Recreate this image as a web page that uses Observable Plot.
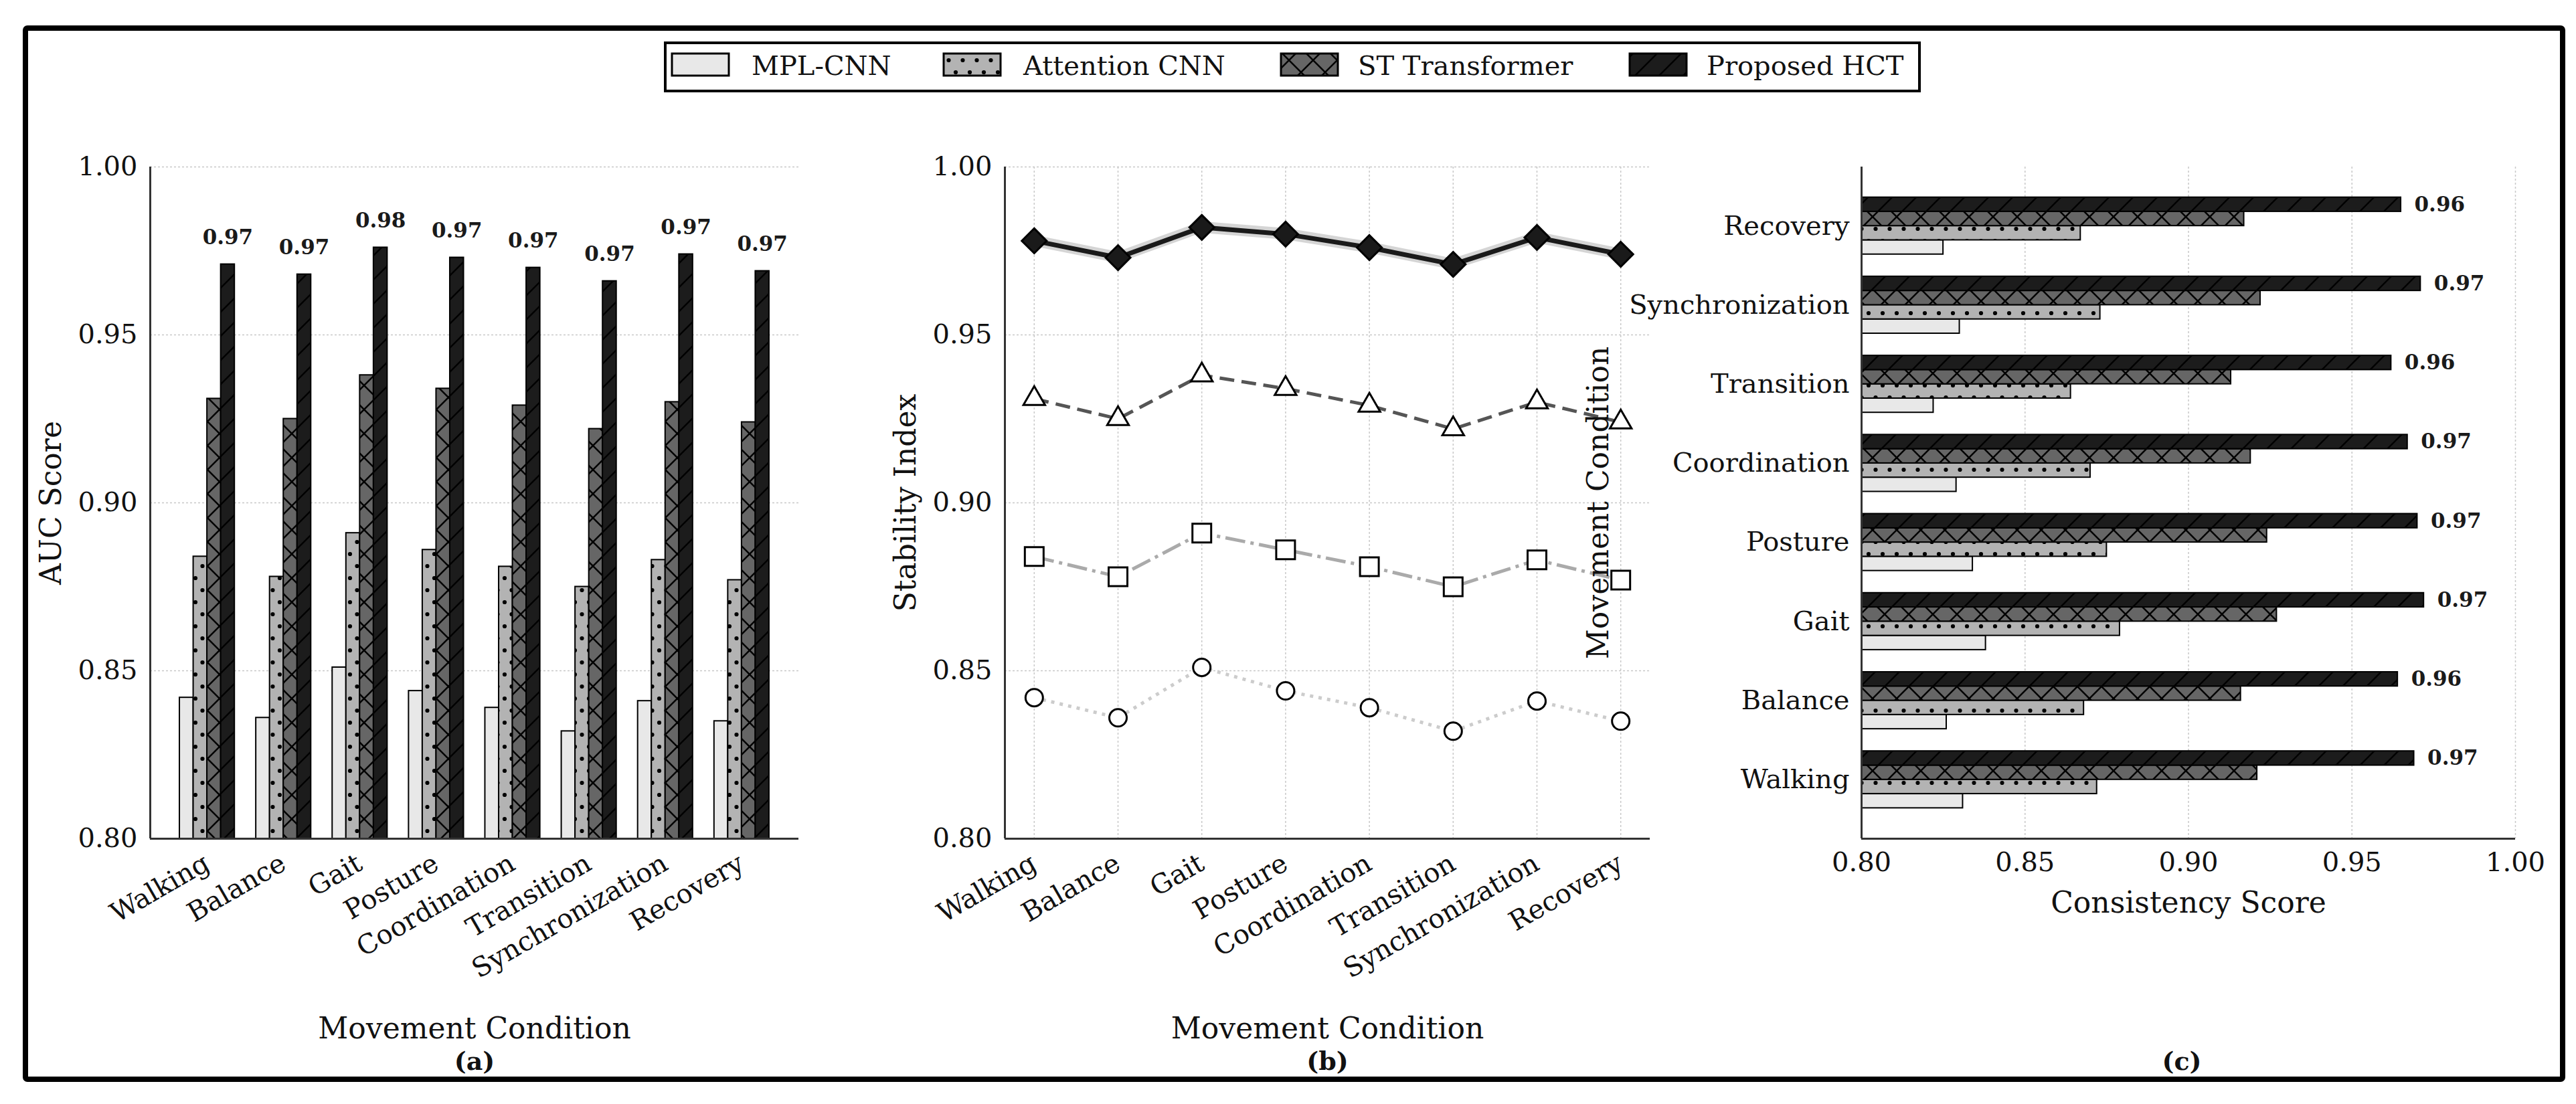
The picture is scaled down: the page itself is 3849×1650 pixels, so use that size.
<!DOCTYPE html>
<html><head><meta charset="utf-8">
<script src="https://cdn.jsdelivr.net/npm/d3@7"></script>
<script src="https://cdn.jsdelivr.net/npm/@observablehq/plot@0.6"></script>
<style>
body{margin:0;background:#fff;}
#page{position:relative;width:3849px;height:1650px;overflow:hidden;font-family:"DejaVu Serif";background:#fff;}
#page svg{position:absolute;}
</style></head><body>
<svg width="0" height="0" style="position:absolute">
<defs>
<pattern id="pAtt" width="21" height="36" patternUnits="userSpaceOnUse">
<rect width="21" height="36" fill="#b3b3b3"/>
<circle cx="0" cy="0" r="3.1" fill="#000"/><circle cx="21" cy="0" r="3.1" fill="#000"/>
<circle cx="0" cy="36" r="3.1" fill="#000"/><circle cx="21" cy="36" r="3.1" fill="#000"/>
<circle cx="10.5" cy="18" r="3.1" fill="#000"/>
</pattern>
<pattern id="pST" width="36" height="36" patternUnits="userSpaceOnUse">
<rect width="36" height="36" fill="#666666"/>
<path d="M0,36L36,0M-9,9L9,-9M27,45L45,27M0,0L36,36M-9,27L9,45M27,-9L45,9" stroke="#000" stroke-width="2.5" fill="none"/>
</pattern>
<pattern id="pHCT" width="36" height="36" patternUnits="userSpaceOnUse">
<rect width="36" height="36" fill="#1c1c1c"/>
<path d="M0,36L36,0M-9,9L9,-9M27,45L45,27" stroke="#000" stroke-width="2.5" fill="none"/>
</pattern>
</defs>
</svg>
<div id="page"></div>
<script>
// ---------- data ----------
const categories = ["Walking","Balance","Gait","Posture","Coordination","Transition","Synchronization","Recovery"];
const models = ["MPL-CNN","Attention CNN","ST Transformer","Proposed HCT"];

// (a) AUC Score
const aucMPL = [0.842,0.836,0.851,0.844,0.839,0.832,0.841,0.835];
const aucAtt = [0.884,0.878,0.891,0.886,0.881,0.875,0.883,0.877];
const aucST  = [0.931,0.925,0.938,0.934,0.929,0.922,0.930,0.924];
const aucHCT = [0.971,0.968,0.976,0.973,0.970,0.966,0.974,0.969];

// (b) Stability Index
const stabMPL = [0.842,0.836,0.851,0.844,0.839,0.832,0.841,0.835];
const stabAtt = [0.884,0.878,0.891,0.886,0.881,0.875,0.883,0.877];
const stabST  = [0.931,0.925,0.938,0.934,0.929,0.922,0.930,0.924];
const stabHCT = [0.978,0.973,0.982,0.980,0.976,0.971,0.979,0.974];

// (c) Consistency Score
const conMPL = [0.831,0.826,0.838,0.834,0.829,0.822,0.830,0.825];
const conAtt = [0.872,0.868,0.879,0.875,0.870,0.864,0.873,0.867];
const conST  = [0.921,0.916,0.927,0.924,0.919,0.913,0.922,0.917];
const conHCT = [0.969,0.964,0.972,0.970,0.967,0.962,0.971,0.965];

const scoreTicks = [0.80,0.85,0.90,0.95,1.00];

// ---------- styling ----------
const FONT = "DejaVu Serif";
const fills = ["#e8e8e8","url(#pAtt)","url(#pST)","url(#pHCT)"];
const offsets = [-0.27,-0.09,0.09,0.27];
const halfW = 0.09;
const idx = d3.range(categories.length);
const catDom = [-0.746, categories.length - 1 + 0.746];
const lineDom = [-0.35, categories.length - 1 + 0.35];
const fmt2 = d => d.toFixed(2);
const gridStyle = {stroke:"#c8c8c8", strokeOpacity:1, strokeWidth:1.5, strokeDasharray:"3,3"};
const spine = {stroke:"#333", strokeWidth:3};
const svgStyle = {fontFamily: FONT, fontSize: "40px", background: "transparent", overflow: "visible", color:"#111"};
const dims = {height: 1440, marginTop: 69, marginBottom: 367};
const xLabelDy = 298, panelDy = 345;
const yLabel = {frameAnchor: "left", rotate: -90, textAnchor: "middle", lineAnchor: "bottom", fontSize: 44};

const page = d3.select("#page");

// outer border + legend
const bg = page.append("svg").attr("width",3849).attr("height",1650).style("left","0px").style("top","0px");
bg.append("rect").attr("x",38).attr("y",42).attr("width",3791).attr("height",1571)
  .attr("fill","none").attr("stroke","#000").attr("stroke-width",8).attr("rx",3);
const lg = bg.append("g");
lg.append("rect").attr("x",994).attr("y",64).attr("width",1874).attr("height",72)
  .attr("fill","#fff").attr("stroke","#000").attr("stroke-width",4);
const swX = [1004,1410,1914,2435], txX = [1123,1529,2029,2550];
models.forEach((m,k) => {
  lg.append("rect").attr("x",swX[k]).attr("y",80).attr("width",85).attr("height",33)
    .attr("fill",fills[k]).attr("stroke","#000").attr("stroke-width",3);
  lg.append("text").attr("x",txX[k]).attr("y",112).attr("font-size",40)
    .attr("font-family",FONT).attr("fill","#111").text(m);
});

function place(svg, left, top) {
  svg.style.left = left + "px"; svg.style.top = top + "px";
  page.node().appendChild(svg);
}

// ---------- (a) grouped bars ----------
const auc = [aucMPL, aucAtt, aucST, aucHCT];
const plotA = Plot.plot({
  width: 1230, ...dims, marginLeft: 184, marginRight: 77,
  style: svgStyle,
  x: {domain: catDom, axis: null},
  y: {domain: [0.8, 1.0], axis: null},
  marks: [
    Plot.gridY({ticks: scoreTicks, ...gridStyle}),
    ...auc.map((vals,k) => Plot.rect(idx, {
      x1: i => i + offsets[k] - halfW, x2: i => i + offsets[k] + halfW,
      y1: () => 0.8, y2: i => vals[i],
      fill: fills[k], stroke: "#000", strokeWidth: 2
    })),
    Plot.ruleY([0.8], spine),
    Plot.ruleX([catDom[0]], spine),
    Plot.axisY({ticks: scoreTicks, tickFormat: fmt2, tickSize: 0, tickPadding: 19, fontSize: 40, label: null}),
    Plot.text(idx, {x: i => i + offsets[3], y: i => aucHCT[i], text: i => fmt2(aucHCT[i]),
      dy: -30, lineAnchor: "bottom", fontWeight: "bold", fontSize: 31, fill: "#1a1a1a"}),
    Plot.text(categories, {x: (d,i) => i, text: d => d, frameAnchor: "bottom", rotate: -30,
      textAnchor: "end", lineAnchor: "top", dy: 20, dx: -8, fontSize: 40}),
    Plot.text(["AUC Score"], {text: d => d, ...yLabel, dx: -134}),
    Plot.text(["Movement Condition"], {text: d => d, frameAnchor: "bottom", dy: xLabelDy, lineAnchor: "bottom", fontSize: 44}),
    Plot.text(["(a)"], {text: d => d, frameAnchor: "bottom", dy: panelDy, lineAnchor: "bottom", fontSize: 38, fontWeight: "bold"})
  ]
});
place(plotA, 40, 180);

// ---------- (b) lines ----------
const stab = [stabMPL, stabAtt, stabST, stabHCT];
const lineStyles = [
  {stroke:"#cccccc", strokeWidth:5, strokeDasharray:"5,8"},
  {stroke:"#aaaaaa", strokeWidth:5, strokeDasharray:"30,8,5,8"},
  {stroke:"#555555", strokeWidth:5, strokeDasharray:"22,11"},
  {stroke:"#1a1a1a", strokeWidth:7}
];
const symbols = ["circle","square","triangle","diamond2"];
const symR = [13, 15.8, 12, 16.7];
const symFill = ["#ffffff","#ffffff","#ffffff","#1a1a1a"];
const plotB = Plot.plot({
  width: 1220, ...dims, marginLeft: 211, marginRight: 45,
  style: svgStyle,
  x: {domain: lineDom, axis: null},
  y: {domain: [0.8, 1.0], axis: null},
  marks: [
    Plot.gridY({ticks: scoreTicks, ...gridStyle}),
    Plot.gridX({ticks: idx, ...gridStyle}),
    Plot.areaY(idx, {x: i => i, y1: i => stabHCT[i] - 0.0017, y2: i => stabHCT[i] + 0.0017, fill: "#888", fillOpacity: 0.35}),
    ...stab.flatMap((vals,k) => [
      Plot.line(idx, {x: i => i, y: i => vals[i], ...lineStyles[k], strokeLinecap: "butt", strokeLinejoin: "round"}),
      Plot.dot(idx, {x: i => i, y: i => vals[i], symbol: symbols[k], r: symR[k], fill: symFill[k], stroke: "#000", strokeWidth: 3})
    ]),
    Plot.ruleY([0.8], spine),
    Plot.ruleX([lineDom[0]], spine),
    Plot.axisY({ticks: scoreTicks, tickFormat: fmt2, tickSize: 0, tickPadding: 19, fontSize: 40, label: null}),
    Plot.text(categories, {x: (d,i) => i, text: d => d, frameAnchor: "bottom", rotate: -30,
      textAnchor: "end", lineAnchor: "top", dy: 20, dx: -8, fontSize: 40}),
    Plot.text(["Stability Index"], {text: d => d, ...yLabel, dx: -134}),
    Plot.text(["Movement Condition"], {text: d => d, frameAnchor: "bottom", dy: xLabelDy, lineAnchor: "bottom", fontSize: 44}),
    Plot.text(["(b)"], {text: d => d, frameAnchor: "bottom", dy: panelDy, lineAnchor: "bottom", fontSize: 38, fontWeight: "bold"})
  ]
});
place(plotB, 1290, 180);

// ---------- (c) horizontal grouped bars ----------
const con = [conMPL, conAtt, conST, conHCT];
const plotC = Plot.plot({
  width: 1480, ...dims, marginLeft: 451, marginRight: 52,
  style: svgStyle,
  x: {domain: [0.8, 1.0], axis: null},
  y: {domain: catDom, axis: null},
  marks: [
    Plot.gridX({ticks: scoreTicks, ...gridStyle}),
    ...con.map((vals,k) => Plot.rect(idx, {
      y1: i => i + offsets[k] - halfW, y2: i => i + offsets[k] + halfW,
      x1: () => 0.8, x2: i => vals[i],
      fill: fills[k], stroke: "#000", strokeWidth: 2
    })),
    Plot.ruleX([0.8], spine),
    Plot.ruleY([catDom[0]], spine),
    Plot.axisX({ticks: scoreTicks, tickFormat: fmt2, tickSize: 0, tickPadding: 20, fontSize: 40, label: null}),
    Plot.text(categories, {y: (d,i) => i, text: d => d, frameAnchor: "left", textAnchor: "end", dx: -18, fontSize: 40}),
    Plot.text(idx, {x: i => conHCT[i], y: i => i + offsets[3], text: i => fmt2(conHCT[i]),
      dx: 20, textAnchor: "start", fontWeight: "bold", fontSize: 31, fill: "#1a1a1a"}),
    Plot.text(["Movement Condition"], {text: d => d, ...yLabel, dx: -379}),
    Plot.text(["Consistency Score"], {text: d => d, frameAnchor: "bottom", dy: 110, lineAnchor: "bottom", fontSize: 44}),
    Plot.text(["(c)"], {text: d => d, frameAnchor: "bottom", dy: panelDy, dx: -10, lineAnchor: "bottom", fontSize: 38, fontWeight: "bold"})
  ]
});
place(plotC, 2330, 180);
</script>
</body></html>
